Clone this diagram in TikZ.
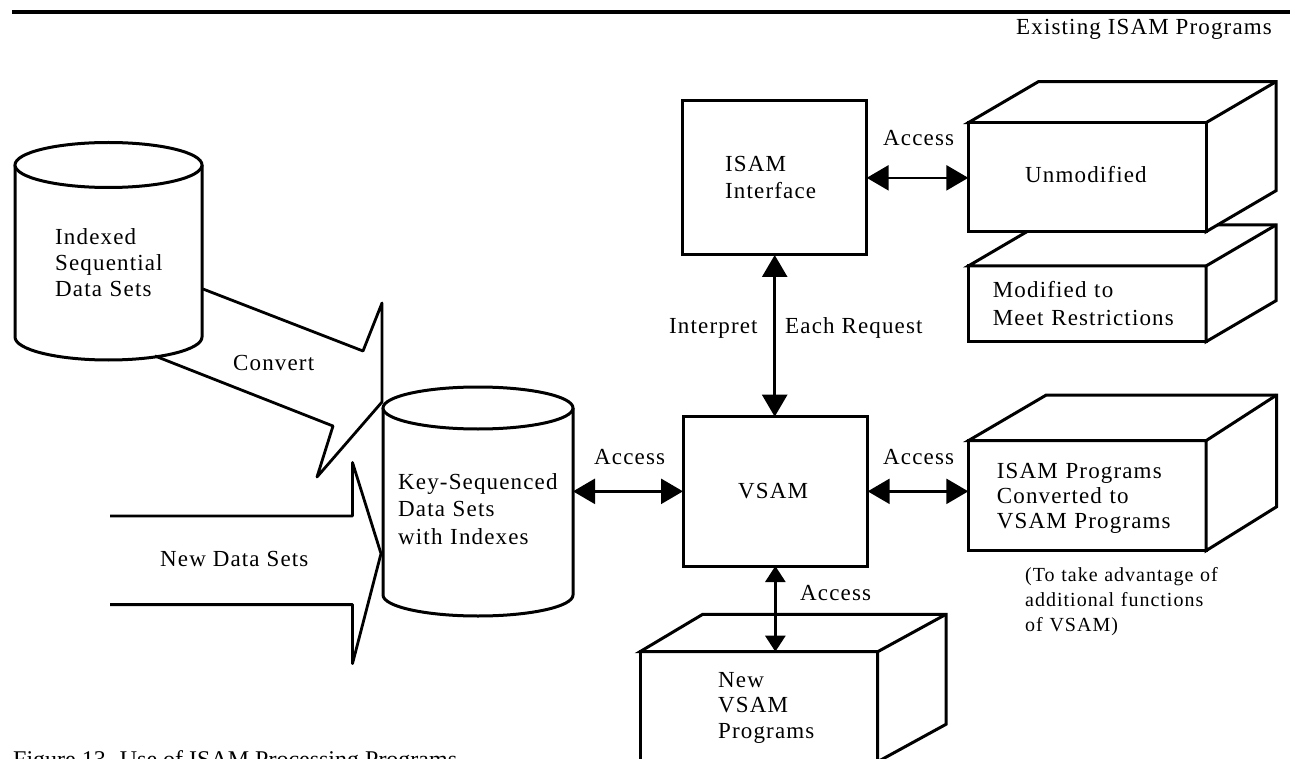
\documentclass[tikz,border=0pt]{standalone}
\usepackage{fontspec}
\usetikzlibrary{arrows.meta}
\newfontfamily\df{Liberation Serif}[LetterSpace=5]
\newfontfamily\cf{Liberation Serif}
\newcommand{\dtf}[1]{\df\fontsize{23}{#1}\selectfont}
\begin{document}
\begin{tikzpicture}[x=1pt,y=-1pt,
  lw/.style={line width=3pt},
  box/.style={draw, line width=3pt, fill=white, inner sep=0pt, outer sep=0pt, anchor=north west},
  face/.style={draw, line width=3pt, fill=white, line join=miter},
  blk/.style={draw, line width=2.8pt, line join=round},
  dbl/.style={line width=2.6pt, {Triangle[length=22pt,width=25pt]}-{Triangle[length=22pt,width=25pt]}},
  dbls/.style={line width=2.6pt, {Triangle[length=16pt,width=20pt]}-{Triangle[length=16pt,width=20pt]}},
  lbl/.style={anchor=base west, inner sep=0pt, font=\dtf{26}},
  mtxt/.style={anchor=base west, inner sep=0pt, align=left, text width=#1},
]
\useasboundingbox (0,0) rectangle (1290,759);

% top rule
\draw[line width=3.5pt] (12,12) -- (1290,12);

% cylinder 1: Indexed Sequential Data Sets
\draw[lw, fill=white] (15,165) -- (15,337) arc[start angle=180, end angle=0, x radius=93.5, y radius=23] -- (202,165);
\draw[lw, fill=white] (108.5,165) ellipse [x radius=93.5, y radius=22.5];
\node[inner sep=0pt, outer sep=0pt, minimum width=187, minimum height=195] (isds) at (108.5,252) {};

% cylinder 2: Key-Sequenced Data Sets
\draw[lw, fill=white] (383,408) -- (383,595) arc[start angle=180, end angle=0, x radius=95, y radius=21] -- (573,408);
\draw[lw, fill=white] (478,408) ellipse [x radius=95, y radius=21];
\node[inner sep=0pt, outer sep=0pt, minimum width=190, minimum height=187] (ksds) at (478,501.5) {};

% Convert block arrow
\draw[blk] (203,289) -- (363,351) -- (382,303) -- (382,402) -- (317,477) -- (333,426) -- (155,356);
% New Data Sets block arrow
\draw[blk] (110,516) -- (352.5,516) -- (352.5,462.5) -- (381,553.6) -- (352.5,663.6) -- (352.5,604.6) -- (110,604.6);

% plain boxes
\node[box, minimum width=184, minimum height=154.3] (isam) at (682.7,100.7) {};
\node[box, minimum width=184.7, minimum height=149.3] (vsam) at (683,416.7) {};

% Modified box (behind)
\node[box, minimum width=237.7, minimum height=75.7] (modi) at (968.3,266) {};
\draw[face] (modi.north west) -- ++(70,-41) -- ([shift={(70,-41)}]modi.north east) -- ([shift={(70,-41)}]modi.south east) -- (modi.south east) -- (modi.north east) -- cycle;
\draw[lw] (modi.north east) -- ++(70,-41);

% Unmodified box
\draw[face] (968.3,122.7) -- ++(70,-41) -- ++(237.7,0) -- ++(0,109) -- ++(-70,41) -- ++(0,-109) -- cycle;
\node[box, minimum width=237.7, minimum height=109] (unmod) at (968.3,122.7) {};
\draw[lw] (unmod.north east) -- ++(70,-41);

% Converted box
\node[box, minimum width=237.7, minimum height=110] (conv) at (968.3,440.7) {};
\draw[face] (conv.north west) -- ++(78,-45.7) -- ([shift={(70.7,-45.7)}]conv.north east) -- ([shift={(70.7,-44)}]conv.south east) -- (conv.south east) -- (conv.north east) -- cycle;
\draw[lw] (conv.north east) -- ++(70.7,-45.7);

% New VSAM Programs box
\node[box, minimum width=237.7, minimum height=110] (nvsam) at (640,651.7) {};
\draw[face] (nvsam.north west) -- ++(62.7,-37.4) -- ([shift={(68.3,-37.4)}]nvsam.north east) -- ([shift={(68.3,-37.4)}]nvsam.south east) -- (nvsam.south east) -- (nvsam.north east) -- cycle;
\draw[lw] (nvsam.north east) -- ++(68.3,-37.4);

% connectors
\draw[dbl] (isam.east) -- (isam.east -| unmod.west);
\draw[dbl] (isam.south) -- (isam.south |- vsam.north);
\draw[dbl] (vsam.west) -- (vsam.west -| ksds.east);
\draw[dbl] (vsam.east) -- (vsam.east -| conv.west);
\draw[dbls] (vsam.south) -- (vsam.south |- nvsam.north);

% texts
\node[lbl] (exist) at (1016,35) {Existing ISAM Programs};
\node[lbl] (acc1) at (883,146) {Access};
\node[mtxt=150pt, font=\dtf{26.5}] (isamt) at (725,171.7) {ISAM\\Interface};
\node[lbl] (unmt) at (1025,182.7) {Unmodified};
\node[mtxt=220pt, font=\dtf{28}] (modt) at (992.7,297.5) {Modified to\\Meet Restrictions};
\node[mtxt=150pt, font=\dtf{26}] (isdst) at (55,245) {Indexed\\Sequential\\Data Sets};
\node[lbl] (convl) at (233,370) {Convert};
\node[lbl] (interp) at (669,333) {Interpret};
\node[lbl] (each) at (785,333) {Each Request};
\node[lbl] (acc2) at (594,464) {Access};
\node[lbl] (acc3) at (883,464) {Access};
\node[lbl] (vsamt) at (738,498) {VSAM};
\node[mtxt=180pt, font=\dtf{27.5}] (ksdst) at (398,489) {Key-Sequenced\\Data Sets\\with Indexes};
\node[mtxt=230pt, font=\dtf{25}] (convt) at (996.7,478.3) {ISAM Programs\\Converted to\\VSAM Programs};
\node[lbl] (newds) at (160,566) {New Data Sets};
\node[mtxt=240pt, font={\df\fontsize{20}{25}\selectfont}] (note) at (1025,581.7) {(To take advantage of\\additional functions\\of VSAM)};
\node[lbl] (acc4) at (800,600) {Access};
\node[mtxt=150pt, font=\dtf{25.5}] (nvt) at (718,687) {New\\VSAM\\Programs};
\node[anchor=base west, inner sep=0pt, font={\cf\fontsize{24}{28}\selectfont}] (cap) at (13,767.6) {Figure 13. Use of ISAM Processing Programs};
\end{tikzpicture}
\end{document}
